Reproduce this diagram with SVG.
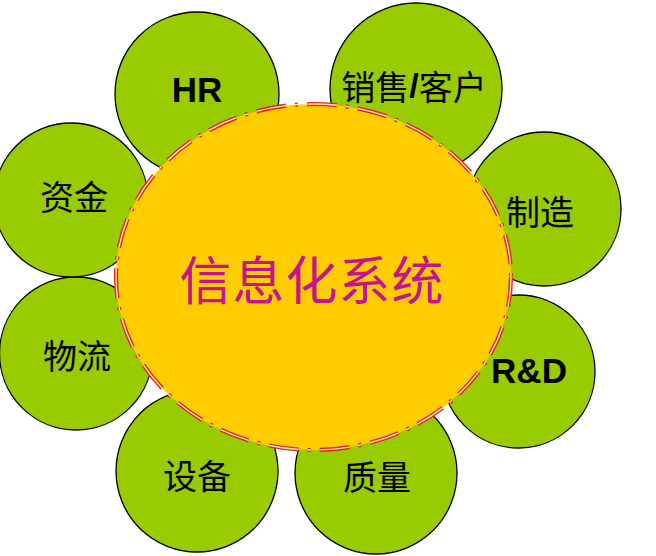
<svg xmlns="http://www.w3.org/2000/svg" width="656" height="556" viewBox="0 0 656 556">
<style>
.petal{fill:#99cc00;stroke:#000;stroke-width:1.3}
.cn{font-family:"Noto Sans CJK SC","Noto Sans",sans-serif;font-size:34px;fill:#000;text-anchor:middle;dominant-baseline:central}
.en{font-family:"Liberation Sans",Arial,sans-serif;font-size:35px;font-weight:bold;fill:#000;text-anchor:middle}
.core{fill:#ffcc00;stroke:none}
.ring{fill:none;stroke:#e0281c;stroke-width:4.2;stroke-dasharray:30 9 3 9}
.ringin{fill:none;stroke:#ffe2c0;stroke-width:1.4;stroke-dasharray:30 9 3 9}
.title{font-family:"Noto Sans CJK SC","Noto Sans",sans-serif;font-size:52px;fill:#c41290;text-anchor:middle;dominant-baseline:central;letter-spacing:1px}
</style>
<rect width="656" height="556" fill="#fff"/>
<g id="node-hr"><circle class="petal" cx="197" cy="94" r="82"/><text class="en" x="197" y="102">HR</text></g>
<g id="node-sales"><circle class="petal" cx="416" cy="89" r="86"/><text class="cn" x="414" y="85">销售<tspan font-family="Liberation Sans,Arial,sans-serif" font-weight="bold">/</tspan>客户</text></g>
<g id="node-mfg"><circle class="petal" cx="544" cy="209" r="77"/><text class="cn" x="540" y="210">制造</text></g>
<g id="node-rd"><circle class="petal" cx="518.5" cy="371.5" r="76.5"/><text class="en" x="529" y="383">R&amp;D</text></g>
<g id="node-quality"><circle class="petal" cx="376" cy="473" r="81"/><text class="cn" x="377" y="475">质量</text></g>
<g id="node-equipment"><circle class="petal" cx="197" cy="471" r="81"/><text class="cn" x="197" y="474">设备</text></g>
<g id="node-logistics"><circle class="petal" cx="76" cy="353.5" r="76.5"/><text class="cn" x="77" y="354">物流</text></g>
<g id="node-finance"><circle class="petal" cx="71" cy="200" r="77"/><text class="cn" x="74" y="195">资金</text></g>
<g id="connectors"></g>
<g id="node-core">
<ellipse class="core" cx="313.5" cy="277" rx="197.5" ry="173"/>
<ellipse class="ring" cx="313.5" cy="277" rx="197.5" ry="173"/>
<ellipse class="ringin" cx="313.5" cy="277" rx="197.5" ry="173"/>
<text class="title" x="312" y="277">信息化系统</text>
</g>
</svg>
